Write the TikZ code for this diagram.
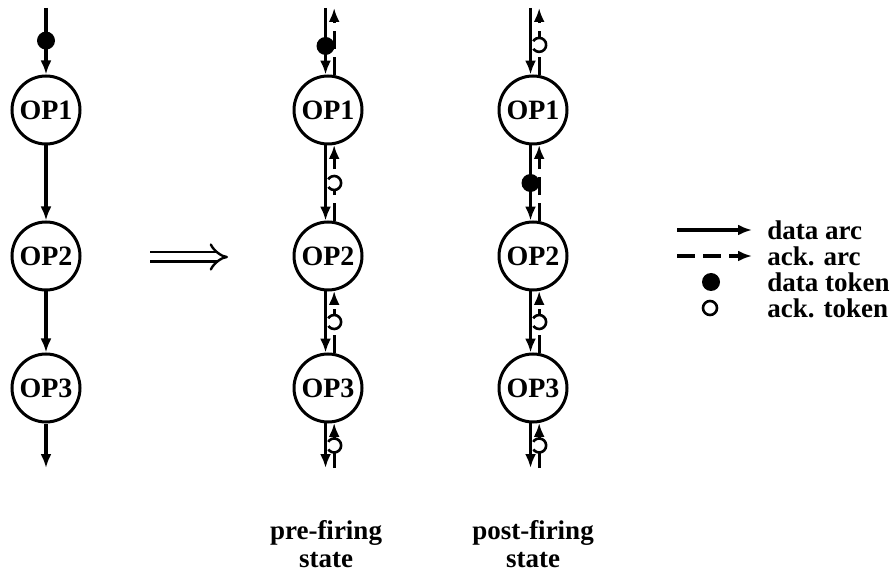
\documentclass[tikz,border=0pt]{standalone}
\usepackage{fontspec}
\setmainfont{Liberation Serif}
\usetikzlibrary{arrows.meta}

\begin{document}
\begin{tikzpicture}[x=0.5pt, y=-0.5pt,
    op/.style={circle, draw=black, line width=1.5pt, minimum size=34pt, inner sep=0pt, font=\fontsize{14}{15}\selectfont\bfseries},
    data/.style={-{Latex[length=7pt, width=5.5pt]}, line width=1.6pt},
    ack/.style={data, dash pattern=on 9pt off 4pt},
    dtok/.style={circle, fill=black, inner sep=0pt, minimum size=9pt},
    atok/.style={circle, draw=black, fill=white, line width=1.3pt, inner sep=0pt, minimum size=7pt},
    lbl/.style={font=\fontsize{13.5}{14}\selectfont\bfseries, align=center, inner sep=0pt}]
    \useasboundingbox (0, 0) rectangle (893, 571);

    %Nodes
    \node[op] at (46, 110) (a1) {OP1};
    \node[op] at (46, 256) (a2) {OP2};
    \node[op] at (46, 388) (a3) {OP3};

    \node[op] at (328, 110) (b1) {OP1};
    \node[op] at (328, 256) (b2) {OP2};
    \node[op] at (328, 388) (b3) {OP3};

    \node[op] at (533, 110) (c1) {OP1};
    \node[op] at (533, 256) (c2) {OP2};
    \node[op] at (533, 388) (c3) {OP3};

    \coordinate (top) at (0, 8);
    \coordinate (bot) at (0, 468);

    \node[lbl] at (326, 544) (pre) {pre-firing\\state};
    \node[lbl] at (533, 544) (post) {post-firing\\state};

    %Legend
    \coordinate (l1) at (677, 230);
    \coordinate (l2) at (752, 230);
    \coordinate (l3) at (677, 256);
    \coordinate (l4) at (752, 256);
    \node[dtok] at (711, 282) (lt1) {};
    \node[atok] at (710, 308) (lt2) {};
    \node[lbl, anchor=west] at (767, 230) (t1) {data arc};
    \node[lbl, anchor=west] at (767, 256) (t2) {ack. arc};
    \node[lbl, anchor=west] at (767, 282) (t3) {data token};
    \node[lbl, anchor=west] at (767, 308) (t4) {ack. token};

    \coordinate (i1) at (150, 257);
    \coordinate (i2) at (228, 257);

    %Lines
    \draw[data] (a1 |- top) -- (a1) node [dtok, pos=0.49] {};
    \draw[data] (a1) -- (a2);
    \draw[data] (a2) -- (a3);
    \draw[data] (a3) -- (a3 |- bot);

    \draw[-{Implies}, double, double distance=3.5pt, line width=1.2pt] (i1) -- (i2);

    % pre-firing
    \draw[data] (b1.94 |- top) -- (b1.94) node [dtok, pos=0.57] {};
    \draw[ack] (b1.80) -- (b1.80 |- top);
    \draw[data] (b1.-94) -- (b2.94);
    \draw[ack] (b2.80) -- (b1.-80) node [atok, pos=0.5] {};
    \draw[data] (b2.-94) -- (b3.94);
    \draw[ack] (b3.80) -- (b2.-80) node [atok, pos=0.5] {};
    \draw[data] (b3.-94) -- (b3.-94 |- bot);
    \draw[ack] (b3.-80 |- bot) -- (b3.-80) node [atok, pos=0.5] {};

    % post-firing
    \draw[data] (c1.94 |- top) -- (c1.94);
    \draw[ack] (c1.80) -- (c1.80 |- top) node [atok, pos=0.45] {};
    \draw[data] (c1.-94) -- (c2.94) node [dtok, pos=0.5] {};
    \draw[ack] (c2.80) -- (c1.-80);
    \draw[data] (c2.-94) -- (c3.94);
    \draw[ack] (c3.80) -- (c2.-80) node [atok, pos=0.5] {};
    \draw[data] (c3.-94) -- (c3.-94 |- bot);
    \draw[ack] (c3.-80 |- bot) -- (c3.-80) node [atok, pos=0.5] {};

    \draw[data] (l1) -- (l2);
    \draw[ack] (l3) -- (l4);

\end{tikzpicture}
\end{document}
